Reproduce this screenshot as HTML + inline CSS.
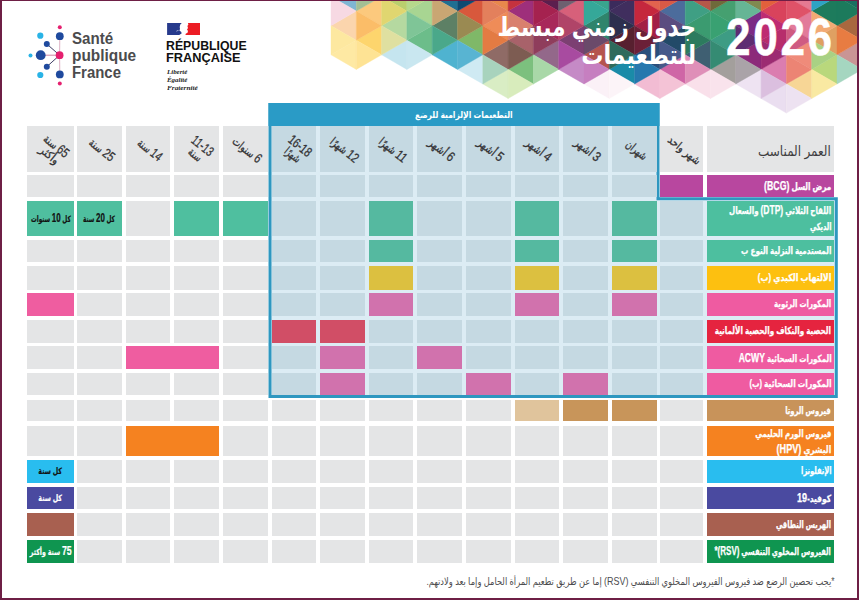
<!DOCTYPE html><html lang="ar"><head><meta charset="utf-8"><title>جدول زمني مبسط للتطعيمات 2026</title>
<style>
html,body{margin:0;padding:0;background:#fff;}
body{width:859px;height:600px;overflow:hidden;position:relative;font-family:"Liberation Sans","DejaVu Sans",sans-serif;}
#page{position:absolute;left:0;top:0;width:859px;height:600px;overflow:hidden;background:#fff;}
.c{position:absolute;box-sizing:border-box;}
.ar{font-family:"Liberation Sans","DejaVu Sans",sans-serif;direction:rtl;}
.f{display:inline-block;white-space:nowrap;}
.lbl{color:#fff;font-weight:bold;-webkit-text-stroke:0.25px #fff;font-size:10px;line-height:16.6px;direction:rtl;white-space:nowrap;}
.lbl .ln{position:absolute;right:2.8px;height:16.6px;}
.lbl .lt{font-size:12px;}
.ct{font-weight:bold;-webkit-text-stroke:0.2px currentColor;font-size:8.6px;line-height:14px;display:flex;align-items:center;justify-content:center;direction:rtl;white-space:nowrap;}
.ct .nm{font-size:12px;}
.hd{display:flex;align-items:center;justify-content:center;}
.hd .r{display:block;position:relative;left:2px;top:1px;transform:rotate(39deg);direction:rtl;text-align:center;font-size:11.5px;line-height:11px;color:#333335;white-space:nowrap;-webkit-text-stroke:0.3px #333335;}
.hd .dg{font-size:13.5px;}
</style></head><body><div id="page">
<svg class="c" style="left:0;top:0" width="859" height="125" viewBox="0 0 859 125">
<polygon points="356.30,-18.07 356.30,11.07 331.00,-3.50" fill="#7fb6d3" stroke="#7fb6d3" stroke-width="0.4"/>
<polygon points="356.30,11.07 356.30,40.22 331.00,25.65" fill="#fbd5ad" stroke="#fbd5ad" stroke-width="0.4"/>
<polygon points="356.30,40.22 356.30,69.38 331.00,54.80" fill="#fee9a3" stroke="#fee9a3" stroke-width="0.4"/>
<polygon points="331.00,-3.50 331.00,25.65 356.30,11.07" fill="#f7d9e3" stroke="#f7d9e3" stroke-width="0.4"/>
<polygon points="331.00,25.65 331.00,54.80 356.30,40.22" fill="#fde8a0" stroke="#fde8a0" stroke-width="0.4"/>
<polygon points="381.60,-3.50 381.60,25.65 356.30,11.07" fill="#fcc97d" stroke="#fcc97d" stroke-width="0.4"/>
<polygon points="381.60,25.65 381.60,54.80 356.30,40.22" fill="#fdd56d" stroke="#fdd56d" stroke-width="0.4"/>
<polygon points="356.30,-18.07 356.30,11.07 381.60,-3.50" fill="#a3bf94" stroke="#a3bf94" stroke-width="0.4"/>
<polygon points="356.30,11.07 356.30,40.22 381.60,25.65" fill="#fbbd68" stroke="#fbbd68" stroke-width="0.4"/>
<polygon points="356.30,40.22 356.30,69.38 381.60,54.80" fill="#fee394" stroke="#fee394" stroke-width="0.4"/>
<polygon points="406.90,-18.07 406.90,11.07 381.60,-3.50" fill="#b9cf6e" stroke="#b9cf6e" stroke-width="0.4"/>
<polygon points="406.90,11.07 406.90,40.22 381.60,25.65" fill="#b5d9a0" stroke="#b5d9a0" stroke-width="0.4"/>
<polygon points="406.90,40.22 406.90,69.38 381.60,54.80" fill="#c5e5ef" stroke="#c5e5ef" stroke-width="0.4"/>
<polygon points="381.60,-3.50 381.60,25.65 406.90,11.07" fill="#e0d670" stroke="#e0d670" stroke-width="0.4"/>
<polygon points="381.60,25.65 381.60,54.80 406.90,40.22" fill="#dfe0a0" stroke="#dfe0a0" stroke-width="0.4"/>
<polygon points="432.20,-3.50 432.20,25.65 406.90,11.07" fill="#a8d592" stroke="#a8d592" stroke-width="0.4"/>
<polygon points="432.20,25.65 432.20,54.80 406.90,40.22" fill="#6cbd8a" stroke="#6cbd8a" stroke-width="0.4"/>
<polygon points="406.90,-18.07 406.90,11.07 432.20,-3.50" fill="#b6d98c" stroke="#b6d98c" stroke-width="0.4"/>
<polygon points="406.90,11.07 406.90,40.22 432.20,25.65" fill="#7fc597" stroke="#7fc597" stroke-width="0.4"/>
<polygon points="406.90,40.22 406.90,69.38 432.20,54.80" fill="#c9e7f0" stroke="#c9e7f0" stroke-width="0.4"/>
<polygon points="457.50,-18.07 457.50,11.07 432.20,-3.50" fill="#1f6f92" stroke="#1f6f92" stroke-width="0.4"/>
<polygon points="457.50,11.07 457.50,40.22 432.20,25.65" fill="#5d8065" stroke="#5d8065" stroke-width="0.4"/>
<polygon points="457.50,40.22 457.50,69.38 432.20,54.80" fill="#4fb3d0" stroke="#4fb3d0" stroke-width="0.4"/>
<polygon points="432.20,-3.50 432.20,25.65 457.50,11.07" fill="#c9a673" stroke="#c9a673" stroke-width="0.4"/>
<polygon points="432.20,25.65 432.20,54.80 457.50,40.22" fill="#4aa88a" stroke="#4aa88a" stroke-width="0.4"/>
<polygon points="482.80,-3.50 482.80,25.65 457.50,11.07" fill="#d8583c" stroke="#d8583c" stroke-width="0.4"/>
<polygon points="482.80,25.65 482.80,54.80 457.50,40.22" fill="#7fb868" stroke="#7fb868" stroke-width="0.4"/>
<polygon points="482.80,54.80 482.80,83.95 457.50,69.38" fill="#cfeaf3" stroke="#cfeaf3" stroke-width="0.4"/>
<polygon points="457.50,-18.07 457.50,11.07 482.80,-3.50" fill="#0d4a72" stroke="#0d4a72" stroke-width="0.4"/>
<polygon points="457.50,11.07 457.50,40.22 482.80,25.65" fill="#9a8a52" stroke="#9a8a52" stroke-width="0.4"/>
<polygon points="457.50,40.22 457.50,69.38 482.80,54.80" fill="#58b4d2" stroke="#58b4d2" stroke-width="0.4"/>
<polygon points="508.10,-18.07 508.10,11.07 482.80,-3.50" fill="#e8884c" stroke="#e8884c" stroke-width="0.4"/>
<polygon points="508.10,11.07 508.10,40.22 482.80,25.65" fill="#ef8c58" stroke="#ef8c58" stroke-width="0.4"/>
<polygon points="508.10,40.22 508.10,69.38 482.80,54.80" fill="#8f6b66" stroke="#8f6b66" stroke-width="0.4"/>
<polygon points="508.10,69.37 508.10,98.52 482.80,83.95" fill="#d9edc4" stroke="#d9edc4" stroke-width="0.4"/>
<polygon points="482.80,-3.50 482.80,25.65 508.10,11.07" fill="#e3805c" stroke="#e3805c" stroke-width="0.4"/>
<polygon points="482.80,25.65 482.80,54.80 508.10,40.22" fill="#e37b43" stroke="#e37b43" stroke-width="0.4"/>
<polygon points="482.80,54.80 482.80,83.95 508.10,69.38" fill="#a8d3bd" stroke="#a8d3bd" stroke-width="0.4"/>
<polygon points="533.40,-3.50 533.40,25.65 508.10,11.07" fill="#9e2f7b" stroke="#9e2f7b" stroke-width="0.4"/>
<polygon points="533.40,25.65 533.40,54.80 508.10,40.22" fill="#a8626a" stroke="#a8626a" stroke-width="0.4"/>
<polygon points="533.40,54.80 533.40,83.95 508.10,69.38" fill="#7cc07e" stroke="#7cc07e" stroke-width="0.4"/>
<polygon points="508.10,-18.07 508.10,11.07 533.40,-3.50" fill="#c5323e" stroke="#c5323e" stroke-width="0.4"/>
<polygon points="508.10,11.07 508.10,40.22 533.40,25.65" fill="#d9806e" stroke="#d9806e" stroke-width="0.4"/>
<polygon points="508.10,40.22 508.10,69.38 533.40,54.80" fill="#7d5c52" stroke="#7d5c52" stroke-width="0.4"/>
<polygon points="508.10,69.37 508.10,98.52 533.40,83.95" fill="#d8ecbc" stroke="#d8ecbc" stroke-width="0.4"/>
<polygon points="558.70,-18.07 558.70,11.07 533.40,-3.50" fill="#5b1f4e" stroke="#5b1f4e" stroke-width="0.4"/>
<polygon points="558.70,11.07 558.70,40.22 533.40,25.65" fill="#a8285a" stroke="#a8285a" stroke-width="0.4"/>
<polygon points="558.70,40.22 558.70,69.38 533.40,54.80" fill="#93688a" stroke="#93688a" stroke-width="0.4"/>
<polygon points="533.40,-3.50 533.40,25.65 558.70,11.07" fill="#a5224f" stroke="#a5224f" stroke-width="0.4"/>
<polygon points="533.40,25.65 533.40,54.80 558.70,40.22" fill="#8f3d5c" stroke="#8f3d5c" stroke-width="0.4"/>
<polygon points="533.40,54.80 533.40,83.95 558.70,69.38" fill="#a9d8a8" stroke="#a9d8a8" stroke-width="0.4"/>
<polygon points="584.00,-3.50 584.00,25.65 558.70,11.07" fill="#d7607a" stroke="#d7607a" stroke-width="0.4"/>
<polygon points="584.00,25.65 584.00,54.80 558.70,40.22" fill="#7c3f72" stroke="#7c3f72" stroke-width="0.4"/>
<polygon points="584.00,54.80 584.00,83.95 558.70,69.38" fill="#c58ac6" stroke="#c58ac6" stroke-width="0.4"/>
<polygon points="558.70,-18.07 558.70,11.07 584.00,-3.50" fill="#6e6070" stroke="#6e6070" stroke-width="0.4"/>
<polygon points="558.70,11.07 558.70,40.22 584.00,25.65" fill="#b04468" stroke="#b04468" stroke-width="0.4"/>
<polygon points="558.70,40.22 558.70,69.38 584.00,54.80" fill="#a84ba0" stroke="#a84ba0" stroke-width="0.4"/>
<polygon points="609.30,-18.07 609.30,11.07 584.00,-3.50" fill="#3aa58e" stroke="#3aa58e" stroke-width="0.4"/>
<polygon points="609.30,11.07 609.30,40.22 584.00,25.65" fill="#2f846c" stroke="#2f846c" stroke-width="0.4"/>
<polygon points="609.30,40.22 609.30,69.38 584.00,54.80" fill="#b5544e" stroke="#b5544e" stroke-width="0.4"/>
<polygon points="609.30,69.37 609.30,98.52 584.00,83.95" fill="#fbf1f7" stroke="#fbf1f7" stroke-width="0.4"/>
<polygon points="584.00,-3.50 584.00,25.65 609.30,11.07" fill="#35a899" stroke="#35a899" stroke-width="0.4"/>
<polygon points="584.00,25.65 584.00,54.80 609.30,40.22" fill="#6a4a6a" stroke="#6a4a6a" stroke-width="0.4"/>
<polygon points="584.00,54.80 584.00,83.95 609.30,69.38" fill="#c67fc0" stroke="#c67fc0" stroke-width="0.4"/>
<polygon points="634.60,-3.50 634.60,25.65 609.30,11.07" fill="#402e5e" stroke="#402e5e" stroke-width="0.4"/>
<polygon points="634.60,25.65 634.60,54.80 609.30,40.22" fill="#57202f" stroke="#57202f" stroke-width="0.4"/>
<polygon points="634.60,54.80 634.60,83.95 609.30,69.38" fill="#1a8ba8" stroke="#1a8ba8" stroke-width="0.4"/>
<polygon points="609.30,-18.07 609.30,11.07 634.60,-3.50" fill="#3b2b5c" stroke="#3b2b5c" stroke-width="0.4"/>
<polygon points="609.30,11.07 609.30,40.22 634.60,25.65" fill="#2d2f4e" stroke="#2d2f4e" stroke-width="0.4"/>
<polygon points="609.30,40.22 609.30,69.38 634.60,54.80" fill="#2e6b5c" stroke="#2e6b5c" stroke-width="0.4"/>
<polygon points="609.30,69.37 609.30,98.52 634.60,83.95" fill="#fcf4f8" stroke="#fcf4f8" stroke-width="0.4"/>
<polygon points="659.90,-18.07 659.90,11.07 634.60,-3.50" fill="#e2634e" stroke="#e2634e" stroke-width="0.4"/>
<polygon points="659.90,11.07 659.90,40.22 634.60,25.65" fill="#a31f45" stroke="#a31f45" stroke-width="0.4"/>
<polygon points="659.90,40.22 659.90,69.38 634.60,54.80" fill="#2a4f7c" stroke="#2a4f7c" stroke-width="0.4"/>
<polygon points="659.90,69.37 659.90,98.52 634.60,83.95" fill="#f2bcd3" stroke="#f2bcd3" stroke-width="0.4"/>
<polygon points="634.60,-3.50 634.60,25.65 659.90,11.07" fill="#c5273d" stroke="#c5273d" stroke-width="0.4"/>
<polygon points="634.60,25.65 634.60,54.80 659.90,40.22" fill="#6b2038" stroke="#6b2038" stroke-width="0.4"/>
<polygon points="634.60,54.80 634.60,83.95 659.90,69.38" fill="#2678ae" stroke="#2678ae" stroke-width="0.4"/>
<polygon points="685.20,-3.50 685.20,25.65 659.90,11.07" fill="#4c6c9c" stroke="#4c6c9c" stroke-width="0.4"/>
<polygon points="685.20,25.65 685.20,54.80 659.90,40.22" fill="#224a68" stroke="#224a68" stroke-width="0.4"/>
<polygon points="685.20,54.80 685.20,83.95 659.90,69.38" fill="#cf66a6" stroke="#cf66a6" stroke-width="0.4"/>
<polygon points="659.90,-18.07 659.90,11.07 685.20,-3.50" fill="#d95a45" stroke="#d95a45" stroke-width="0.4"/>
<polygon points="659.90,11.07 659.90,40.22 685.20,25.65" fill="#5b4d80" stroke="#5b4d80" stroke-width="0.4"/>
<polygon points="659.90,40.22 659.90,69.38 685.20,54.80" fill="#47598a" stroke="#47598a" stroke-width="0.4"/>
<polygon points="659.90,69.37 659.90,98.52 685.20,83.95" fill="#f4c3d6" stroke="#f4c3d6" stroke-width="0.4"/>
<polygon points="710.50,-18.07 710.50,11.07 685.20,-3.50" fill="#b5584a" stroke="#b5584a" stroke-width="0.4"/>
<polygon points="710.50,11.07 710.50,40.22 685.20,25.65" fill="#3b9b70" stroke="#3b9b70" stroke-width="0.4"/>
<polygon points="710.50,40.22 710.50,69.38 685.20,54.80" fill="#3f5f72" stroke="#3f5f72" stroke-width="0.4"/>
<polygon points="710.50,69.37 710.50,98.52 685.20,83.95" fill="#f9e0ea" stroke="#f9e0ea" stroke-width="0.4"/>
<polygon points="685.20,-3.50 685.20,25.65 710.50,11.07" fill="#3f9f84" stroke="#3f9f84" stroke-width="0.4"/>
<polygon points="685.20,25.65 685.20,54.80 710.50,40.22" fill="#2c7b5e" stroke="#2c7b5e" stroke-width="0.4"/>
<polygon points="685.20,54.80 685.20,83.95 710.50,69.38" fill="#df8fb8" stroke="#df8fb8" stroke-width="0.4"/>
<polygon points="735.80,-3.50 735.80,25.65 710.50,11.07" fill="#45a070" stroke="#45a070" stroke-width="0.4"/>
<polygon points="735.80,25.65 735.80,54.80 710.50,40.22" fill="#3d9c84" stroke="#3d9c84" stroke-width="0.4"/>
<polygon points="735.80,54.80 735.80,83.95 710.50,69.38" fill="#a39f9c" stroke="#a39f9c" stroke-width="0.4"/>
<polygon points="710.50,-18.07 710.50,11.07 735.80,-3.50" fill="#6f6a3a" stroke="#6f6a3a" stroke-width="0.4"/>
<polygon points="710.50,11.07 710.50,40.22 735.80,25.65" fill="#39a172" stroke="#39a172" stroke-width="0.4"/>
<polygon points="710.50,40.22 710.50,69.38 735.80,54.80" fill="#358b73" stroke="#358b73" stroke-width="0.4"/>
<polygon points="710.50,69.37 710.50,98.52 735.80,83.95" fill="#f9e3ec" stroke="#f9e3ec" stroke-width="0.4"/>
<polygon points="761.10,-18.07 761.10,11.07 735.80,-3.50" fill="#808a50" stroke="#808a50" stroke-width="0.4"/>
<polygon points="761.10,11.07 761.10,40.22 735.80,25.65" fill="#7b2b85" stroke="#7b2b85" stroke-width="0.4"/>
<polygon points="761.10,40.22 761.10,69.38 735.80,54.80" fill="#8c2a7a" stroke="#8c2a7a" stroke-width="0.4"/>
<polygon points="761.10,69.37 761.10,98.52 735.80,83.95" fill="#eee3f2" stroke="#eee3f2" stroke-width="0.4"/>
<polygon points="735.80,-3.50 735.80,25.65 761.10,11.07" fill="#66b595" stroke="#66b595" stroke-width="0.4"/>
<polygon points="735.80,25.65 735.80,54.80 761.10,40.22" fill="#5e2c72" stroke="#5e2c72" stroke-width="0.4"/>
<polygon points="735.80,54.80 735.80,83.95 761.10,69.38" fill="#aaa3a8" stroke="#aaa3a8" stroke-width="0.4"/>
<polygon points="786.40,-3.50 786.40,25.65 761.10,11.07" fill="#d9435c" stroke="#d9435c" stroke-width="0.4"/>
<polygon points="786.40,25.65 786.40,54.80 761.10,40.22" fill="#b72d6c" stroke="#b72d6c" stroke-width="0.4"/>
<polygon points="786.40,54.80 786.40,83.95 761.10,69.38" fill="#db7db0" stroke="#db7db0" stroke-width="0.4"/>
<polygon points="786.40,83.95 786.40,113.10 761.10,98.52" fill="#eadef0" stroke="#eadef0" stroke-width="0.4"/>
<polygon points="761.10,-18.07 761.10,11.07 786.40,-3.50" fill="#e2603c" stroke="#e2603c" stroke-width="0.4"/>
<polygon points="761.10,11.07 761.10,40.22 786.40,25.65" fill="#be2c72" stroke="#be2c72" stroke-width="0.4"/>
<polygon points="761.10,40.22 761.10,69.38 786.40,54.80" fill="#9c2b72" stroke="#9c2b72" stroke-width="0.4"/>
<polygon points="761.10,69.37 761.10,98.52 786.40,83.95" fill="#dbbfdf" stroke="#dbbfdf" stroke-width="0.4"/>
<polygon points="811.70,-18.07 811.70,11.07 786.40,-3.50" fill="#e57a92" stroke="#e57a92" stroke-width="0.4"/>
<polygon points="811.70,11.07 811.70,40.22 786.40,25.65" fill="#e27b9a" stroke="#e27b9a" stroke-width="0.4"/>
<polygon points="811.70,40.22 811.70,69.38 786.40,54.80" fill="#ef8b7a" stroke="#ef8b7a" stroke-width="0.4"/>
<polygon points="811.70,69.37 811.70,98.52 786.40,83.95" fill="#f7d696" stroke="#f7d696" stroke-width="0.4"/>
<polygon points="786.40,-3.50 786.40,25.65 811.70,11.07" fill="#df5268" stroke="#df5268" stroke-width="0.4"/>
<polygon points="786.40,25.65 786.40,54.80 811.70,40.22" fill="#cf5b82" stroke="#cf5b82" stroke-width="0.4"/>
<polygon points="786.40,54.80 786.40,83.95 811.70,69.38" fill="#ec8474" stroke="#ec8474" stroke-width="0.4"/>
<polygon points="786.40,83.95 786.40,113.10 811.70,98.52" fill="#ede2f1" stroke="#ede2f1" stroke-width="0.4"/>
<polygon points="837.00,-3.50 837.00,25.65 811.70,11.07" fill="#1d7b5c" stroke="#1d7b5c" stroke-width="0.4"/>
<polygon points="837.00,25.65 837.00,54.80 811.70,40.22" fill="#dfa062" stroke="#dfa062" stroke-width="0.4"/>
<polygon points="837.00,54.80 837.00,83.95 811.70,69.38" fill="#b9d87c" stroke="#b9d87c" stroke-width="0.4"/>
<polygon points="811.70,-18.07 811.70,11.07 837.00,-3.50" fill="#2ea3c4" stroke="#2ea3c4" stroke-width="0.4"/>
<polygon points="811.70,11.07 811.70,40.22 837.00,25.65" fill="#f2aa74" stroke="#f2aa74" stroke-width="0.4"/>
<polygon points="811.70,40.22 811.70,69.38 837.00,54.80" fill="#a9d184" stroke="#a9d184" stroke-width="0.4"/>
<polygon points="811.70,69.37 811.70,98.52 837.00,83.95" fill="#f9e9a2" stroke="#f9e9a2" stroke-width="0.4"/>
<polygon points="862.30,-18.07 862.30,11.07 837.00,-3.50" fill="#1a7060" stroke="#1a7060" stroke-width="0.4"/>
<polygon points="862.30,11.07 862.30,40.22 837.00,25.65" fill="#a8683f" stroke="#a8683f" stroke-width="0.4"/>
<polygon points="862.30,40.22 862.30,69.38 837.00,54.80" fill="#c99595" stroke="#c99595" stroke-width="0.4"/>
<polygon points="837.00,-3.50 837.00,25.65 862.30,11.07" fill="#1c7a5c" stroke="#1c7a5c" stroke-width="0.4"/>
<polygon points="837.00,25.65 837.00,54.80 862.30,40.22" fill="#e87c42" stroke="#e87c42" stroke-width="0.4"/>
<polygon points="837.00,54.80 837.00,83.95 862.30,69.38" fill="#a5d6c0" stroke="#a5d6c0" stroke-width="0.4"/>
</svg>
<svg class="c" style="left:20px;top:15px" width="60" height="80" viewBox="20 15 60 80">
<g stroke-width="0.9" fill="none">
<line x1="59.6" y1="55.2" x2="59.8" y2="36.2" stroke="#d9a8bd"/>
<line x1="59.6" y1="55.2" x2="59.8" y2="74.4" stroke="#d9a8bd"/>
<line x1="59.6" y1="55.2" x2="40.7" y2="55.2" stroke="#c77a9c"/>
<line x1="59.6" y1="55.2" x2="46.8" y2="44" stroke="#2a2a55"/>
<line x1="59.6" y1="55.2" x2="46.8" y2="66.7" stroke="#2a2a55"/>
</g>
<circle cx="59.8" cy="27.3" r="2" fill="#e5206f"/>
<circle cx="59.8" cy="36.2" r="3.9" fill="#1f4a9e"/>
<circle cx="40.3" cy="35.7" r="3.1" fill="#29b3e6"/>
<circle cx="46.8" cy="44" r="3" fill="#1f4a9e"/>
<circle cx="40.7" cy="55.2" r="4.9" fill="#1f4a9e"/>
<circle cx="30.5" cy="55.5" r="2" fill="#29b3e6"/>
<circle cx="59.6" cy="55.2" r="3.9" fill="#e5206f"/>
<circle cx="46.8" cy="66.7" r="3" fill="#1f4a9e"/>
<circle cx="40.3" cy="75" r="3.1" fill="#29b3e6"/>
<circle cx="59.8" cy="74.4" r="3.9" fill="#1f4a9e"/>
<circle cx="59.8" cy="83.4" r="2" fill="#e5206f"/>
</svg>
<div class="c" style="left:71.6px;top:30.3px;font-weight:bold;font-size:16px;line-height:17.1px;color:#4b4b4d;white-space:nowrap;"><span id="spf1" class="f" style="transform-origin:left center;transform:scaleX(0.9432);">Santé</span><br><span id="spf2" class="f" style="transform-origin:left center;transform:scaleX(0.9627);">publique</span><br><span id="spf3" class="f" style="transform-origin:left center;transform:scaleX(0.9327);">France</span></div>
<svg class="c" style="left:167px;top:22.9px" width="34" height="13" viewBox="0 0 34 13">
<path d="M0.1 0 L14.8 0 L13.3 1.6 L12.7 4 L13 6 L12.4 7.6 L14.3 9 L14.6 10.6 L12.2 12 L0.1 12 Z" fill="#273a8c"/>
<path d="M9.2 7.9 L11.4 6.9 L11.6 7.5 L9.6 8.5 Z" fill="#dfe3f3"/>
<path d="M20.9 0 L33 0 L33 12 L18.4 12 L18.9 10.6 L20.4 10 L21 8 L20 6.6 L21 5 L20.4 3 L21.4 1.6 Z" fill="#ec1c24"/>
</svg>
<div class="c" style="left:166.2px;top:39.7px;font-weight:bold;font-size:12.6px;line-height:12.3px;color:#111;white-space:nowrap;"><span id="rf1" class="f" style="transform-origin:left center;transform:scaleX(0.9759);">RÉPUBLIQUE</span><br><span id="rf2" class="f" style="transform-origin:left center;transform:scaleX(1.0137);">FRANÇAISE</span></div>
<div class="c" style="left:167px;top:67.7px;font-family:'Liberation Serif',serif;font-style:italic;font-size:6.8px;line-height:8.1px;color:#222;white-space:nowrap;font-weight:bold"><span id="m1" class="f" style="transform-origin:left center;transform:scaleX(1.0150);">Liberté</span><br><span id="m2" class="f" style="transform-origin:left center;transform:scaleX(1.0150);">Égalité</span><br><span id="m3" class="f" style="transform-origin:left center;transform:scaleX(1.0690);">Fraternité</span></div>
<div class="c ar" style="right:163.0px;top:13.9px;color:#fff;font-size:26px;line-height:27.5px;white-space:nowrap;font-weight:bold;"><span id="t1" class="f" style="transform-origin:right center;transform:scaleX(0.8411);">جدول زمني مبسط</span></div>
<div class="c ar" style="right:163.0px;top:41.5px;color:#fff;font-size:26px;line-height:27.5px;white-space:nowrap;font-weight:bold;"><span id="t2" class="f" style="transform-origin:right center;transform:scaleX(0.8496);">للتطعيمات</span></div>
<div class="c" style="left:725.5px;top:8px;color:#fff;font-weight:bold;font-size:51.7px;line-height:58px;white-space:nowrap;letter-spacing:3.1px;-webkit-text-stroke:0.5px #fff"><span id="yr" class="f" style="transform-origin:left center;transform:scaleX(0.8543);">2026</span></div>
<svg class="c" style="left:0;top:0" width="859" height="600" viewBox="0 0 859 600"><path d="M270 104.5 H658 V198.7 H836.3 V396.4 H270 Z" fill="#dcecf4" stroke="#2e97c0" stroke-width="3" stroke-linejoin="miter"/><rect x="268.5" y="103" width="391" height="23" fill="#2a9bc6"/></svg>
<div class="c ar" style="left:268.5px;top:103px;width:391px;height:23px;color:#fff;font-weight:bold;font-size:9.5px;display:flex;align-items:center;justify-content:center;white-space:nowrap;"><span id="bh" class="f" style="transform-origin:center center;transform:scaleX(0.8033);">التطعيمات الإلزامية للرضع</span></div>
<div class="c hd" style="left:27.00px;top:126.00px;width:47.00px;height:46.00px;background:#e4e5e6;"><div class="r"><span id="h0_0" class="f" style="transform-origin:center center;transform:scaleX(0.7632);"><span class="dg">65</span> سنة</span><br><span id="h0_1" class="f" style="transform-origin:center center;transform:scaleX(0.9167);">وأكثر</span></div></div>
<div class="c hd" style="left:77.00px;top:126.00px;width:44.70px;height:46.00px;background:#e4e5e6;"><div class="r"><span id="h1_0" class="f" style="transform-origin:center center;transform:scaleX(0.7632);"><span class="dg">25</span> سنة</span></div></div>
<div class="c hd" style="left:125.63px;top:126.00px;width:44.70px;height:46.00px;background:#e4e5e6;"><div class="r"><span id="h2_0" class="f" style="transform-origin:center center;transform:scaleX(0.7368);"><span class="dg">14</span> سنة</span></div></div>
<div class="c hd" style="left:174.26px;top:126.00px;width:44.70px;height:46.00px;background:#e4e5e6;"><div class="r"><span id="h3_0" class="f" style="transform-origin:center center;transform:scaleX(0.7206);"><span class="dg">11-13</span></span><br><span id="h3_1" class="f" style="transform-origin:center center;transform:scaleX(0.7368);">سنة</span></div></div>
<div class="c hd" style="left:222.89px;top:126.00px;width:44.70px;height:46.00px;background:#e4e5e6;"><div class="r"><span id="h4_0" class="f" style="transform-origin:center center;transform:scaleX(0.7636);"><span class="dg">6</span> سنوات</span></div></div>
<div class="c hd" style="left:271.52px;top:126.00px;width:44.70px;height:46.00px;background:#c5d9e2;"><div class="r"><span id="h5_0" class="f" style="transform-origin:center center;transform:scaleX(0.7486);"><span class="dg">16-18</span></span><br><span id="h5_1" class="f" style="transform-origin:center center;transform:scaleX(0.7083);">شهرًا</span></div></div>
<div class="c hd" style="left:320.15px;top:126.00px;width:44.70px;height:46.00px;background:#c5d9e2;"><div class="r"><span id="h6_0" class="f" style="transform-origin:center center;transform:scaleX(0.7558);"><span class="dg">12</span> شهرًا</span></div></div>
<div class="c hd" style="left:368.78px;top:126.00px;width:44.70px;height:46.00px;background:#c5d9e2;"><div class="r"><span id="h7_0" class="f" style="transform-origin:center center;transform:scaleX(0.7619);"><span class="dg">11</span> شهرًا</span></div></div>
<div class="c hd" style="left:417.41px;top:126.00px;width:44.70px;height:46.00px;background:#c5d9e2;"><div class="r"><span id="h8_0" class="f" style="transform-origin:center center;transform:scaleX(0.8286);"><span class="dg">6</span> أشهر</span></div></div>
<div class="c hd" style="left:466.04px;top:126.00px;width:44.70px;height:46.00px;background:#c5d9e2;"><div class="r"><span id="h9_0" class="f" style="transform-origin:center center;transform:scaleX(0.8286);"><span class="dg">5</span> أشهر</span></div></div>
<div class="c hd" style="left:514.67px;top:126.00px;width:44.70px;height:46.00px;background:#c5d9e2;"><div class="r"><span id="h10_0" class="f" style="transform-origin:center center;transform:scaleX(0.8286);"><span class="dg">4</span> أشهر</span></div></div>
<div class="c hd" style="left:563.30px;top:126.00px;width:44.70px;height:46.00px;background:#c5d9e2;"><div class="r"><span id="h11_0" class="f" style="transform-origin:center center;transform:scaleX(0.8286);"><span class="dg">3</span> أشهر</span></div></div>
<div class="c hd" style="left:611.93px;top:126.00px;width:44.70px;height:46.00px;background:#c5d9e2;"><div class="r"><span id="h12_0" class="f" style="transform-origin:center center;transform:scaleX(0.7273);">شهران</span></div></div>
<div class="c hd" style="left:660.20px;top:126.00px;width:43.20px;height:46.00px;background:#e4e5e6;"><div class="r"><span id="h13_0" class="f" style="transform-origin:center center;transform:scaleX(0.8261);">شهر واحد</span></div></div>
<div class="c" style="left:706.50px;top:126.00px;width:127.50px;height:46.00px;background:#e4e5e6;color:#3d3d3f;font-size:14px;line-height:20px;direction:rtl;white-space:nowrap;"><span class="ar" style="position:absolute;right:3px;top:15px"><span id="agehdr" class="f" style="transform-origin:right center;transform:scaleX(0.8588);">العمر المناسب</span></span></div>
<div class="c" style="left:27.00px;top:174.50px;width:47.00px;height:22.50px;background:#e4e5e6;"></div>
<div class="c" style="left:77.00px;top:174.50px;width:44.70px;height:22.50px;background:#e4e5e6;"></div>
<div class="c" style="left:125.63px;top:174.50px;width:44.70px;height:22.50px;background:#e4e5e6;"></div>
<div class="c" style="left:174.26px;top:174.50px;width:44.70px;height:22.50px;background:#e4e5e6;"></div>
<div class="c" style="left:222.89px;top:174.50px;width:44.70px;height:22.50px;background:#e4e5e6;"></div>
<div class="c" style="left:271.52px;top:174.50px;width:44.70px;height:22.50px;background:#c5d9e2;"></div>
<div class="c" style="left:320.15px;top:174.50px;width:44.70px;height:22.50px;background:#c5d9e2;"></div>
<div class="c" style="left:368.78px;top:174.50px;width:44.70px;height:22.50px;background:#c5d9e2;"></div>
<div class="c" style="left:417.41px;top:174.50px;width:44.70px;height:22.50px;background:#c5d9e2;"></div>
<div class="c" style="left:466.04px;top:174.50px;width:44.70px;height:22.50px;background:#c5d9e2;"></div>
<div class="c" style="left:514.67px;top:174.50px;width:44.70px;height:22.50px;background:#c5d9e2;"></div>
<div class="c" style="left:563.30px;top:174.50px;width:44.70px;height:22.50px;background:#c5d9e2;"></div>
<div class="c" style="left:611.93px;top:174.50px;width:44.70px;height:22.50px;background:#c5d9e2;"></div>
<div class="c" style="left:660.20px;top:174.50px;width:43.20px;height:22.50px;background:#b8479f;"></div>
<div class="c lbl" style="left:706.50px;top:174.50px;width:127.50px;height:22.50px;background:#b8479f;"><span class="ln" style="top:3.45px"><span id="l_bcg_0" class="f" style="transform-origin:right center;transform:scaleX(0.7283);">مرض السل <span class="lt">(BCG)</span></span></span></div>
<div class="c ct" style="left:27.00px;top:201.00px;width:47.00px;height:35.00px;background:#4fbf9f;color:#111;"><span id="ct_dtp_0" class="f" style="transform-origin:center center;transform:scaleX(0.6667);">كل <span class="nm">10</span> سنوات</span></div>
<div class="c ct" style="left:77.00px;top:201.00px;width:44.70px;height:35.00px;background:#4fbf9f;color:#111;"><span id="ct_dtp_1" class="f" style="transform-origin:center center;transform:scaleX(0.6625);">كل <span class="nm">20</span> سنة</span></div>
<div class="c" style="left:125.63px;top:201.00px;width:44.70px;height:35.00px;background:#e4e5e6;"></div>
<div class="c" style="left:174.26px;top:201.00px;width:44.70px;height:35.00px;background:#4fbf9f;"></div>
<div class="c" style="left:222.89px;top:201.00px;width:44.70px;height:35.00px;background:#4fbf9f;"></div>
<div class="c" style="left:271.52px;top:201.00px;width:44.70px;height:35.00px;background:#c5d9e2;"></div>
<div class="c" style="left:320.15px;top:201.00px;width:44.70px;height:35.00px;background:#c5d9e2;"></div>
<div class="c" style="left:368.78px;top:201.00px;width:44.70px;height:35.00px;background:#55b9a0;"></div>
<div class="c" style="left:417.41px;top:201.00px;width:44.70px;height:35.00px;background:#c5d9e2;"></div>
<div class="c" style="left:466.04px;top:201.00px;width:44.70px;height:35.00px;background:#c5d9e2;"></div>
<div class="c" style="left:514.67px;top:201.00px;width:44.70px;height:35.00px;background:#55b9a0;"></div>
<div class="c" style="left:563.30px;top:201.00px;width:44.70px;height:35.00px;background:#c5d9e2;"></div>
<div class="c" style="left:611.93px;top:201.00px;width:44.70px;height:35.00px;background:#55b9a0;"></div>
<div class="c" style="left:660.20px;top:201.00px;width:43.20px;height:35.00px;background:#c5d9e2;"></div>
<div class="c lbl" style="left:706.50px;top:201.00px;width:127.50px;height:35.00px;background:#4dbf9f;"><span class="ln" style="top:1.40px"><span id="l_dtp_0" class="f" style="transform-origin:right center;transform:scaleX(0.7083);">اللقاح الثلاثي <span class="lt">(DTP)</span> والسعال</span></span><span class="ln" style="top:18.00px"><span id="l_dtp_1" class="f" style="transform-origin:right center;transform:scaleX(0.6667);">الديكي</span></span></div>
<div class="c" style="left:27.00px;top:239.50px;width:47.00px;height:22.50px;background:#e4e5e6;"></div>
<div class="c" style="left:77.00px;top:239.50px;width:44.70px;height:22.50px;background:#e4e5e6;"></div>
<div class="c" style="left:125.63px;top:239.50px;width:44.70px;height:22.50px;background:#e4e5e6;"></div>
<div class="c" style="left:174.26px;top:239.50px;width:44.70px;height:22.50px;background:#e4e5e6;"></div>
<div class="c" style="left:222.89px;top:239.50px;width:44.70px;height:22.50px;background:#e4e5e6;"></div>
<div class="c" style="left:271.52px;top:239.50px;width:44.70px;height:22.50px;background:#c5d9e2;"></div>
<div class="c" style="left:320.15px;top:239.50px;width:44.70px;height:22.50px;background:#c5d9e2;"></div>
<div class="c" style="left:368.78px;top:239.50px;width:44.70px;height:22.50px;background:#55b9a0;"></div>
<div class="c" style="left:417.41px;top:239.50px;width:44.70px;height:22.50px;background:#c5d9e2;"></div>
<div class="c" style="left:466.04px;top:239.50px;width:44.70px;height:22.50px;background:#c5d9e2;"></div>
<div class="c" style="left:514.67px;top:239.50px;width:44.70px;height:22.50px;background:#55b9a0;"></div>
<div class="c" style="left:563.30px;top:239.50px;width:44.70px;height:22.50px;background:#c5d9e2;"></div>
<div class="c" style="left:611.93px;top:239.50px;width:44.70px;height:22.50px;background:#55b9a0;"></div>
<div class="c" style="left:660.20px;top:239.50px;width:43.20px;height:22.50px;background:#c5d9e2;"></div>
<div class="c lbl" style="left:706.50px;top:239.50px;width:127.50px;height:22.50px;background:#4dbf9f;"><span class="ln" style="top:3.45px"><span id="l_hib_0" class="f" style="transform-origin:right center;transform:scaleX(0.7258);">المستدمية النزلية النوع ب</span></span></div>
<div class="c" style="left:27.00px;top:266.00px;width:47.00px;height:23.50px;background:#e4e5e6;"></div>
<div class="c" style="left:77.00px;top:266.00px;width:44.70px;height:23.50px;background:#e4e5e6;"></div>
<div class="c" style="left:125.63px;top:266.00px;width:44.70px;height:23.50px;background:#e4e5e6;"></div>
<div class="c" style="left:174.26px;top:266.00px;width:44.70px;height:23.50px;background:#e4e5e6;"></div>
<div class="c" style="left:222.89px;top:266.00px;width:44.70px;height:23.50px;background:#e4e5e6;"></div>
<div class="c" style="left:271.52px;top:266.00px;width:44.70px;height:23.50px;background:#c5d9e2;"></div>
<div class="c" style="left:320.15px;top:266.00px;width:44.70px;height:23.50px;background:#c5d9e2;"></div>
<div class="c" style="left:368.78px;top:266.00px;width:44.70px;height:23.50px;background:#dcc040;"></div>
<div class="c" style="left:417.41px;top:266.00px;width:44.70px;height:23.50px;background:#c5d9e2;"></div>
<div class="c" style="left:466.04px;top:266.00px;width:44.70px;height:23.50px;background:#c5d9e2;"></div>
<div class="c" style="left:514.67px;top:266.00px;width:44.70px;height:23.50px;background:#dcc040;"></div>
<div class="c" style="left:563.30px;top:266.00px;width:44.70px;height:23.50px;background:#c5d9e2;"></div>
<div class="c" style="left:611.93px;top:266.00px;width:44.70px;height:23.50px;background:#dcc040;"></div>
<div class="c" style="left:660.20px;top:266.00px;width:43.20px;height:23.50px;background:#c5d9e2;"></div>
<div class="c lbl" style="left:706.50px;top:266.00px;width:127.50px;height:23.50px;background:#fdc010;"><span class="ln" style="top:3.95px"><span id="l_hepb_0" class="f" style="transform-origin:right center;transform:scaleX(0.7876);">الالتهاب الكبدي (ب)</span></span></div>
<div class="c" style="left:27.00px;top:293.00px;width:47.00px;height:22.50px;background:#ef5da0;"></div>
<div class="c" style="left:77.00px;top:293.00px;width:44.70px;height:22.50px;background:#e4e5e6;"></div>
<div class="c" style="left:125.63px;top:293.00px;width:44.70px;height:22.50px;background:#e4e5e6;"></div>
<div class="c" style="left:174.26px;top:293.00px;width:44.70px;height:22.50px;background:#e4e5e6;"></div>
<div class="c" style="left:222.89px;top:293.00px;width:44.70px;height:22.50px;background:#e4e5e6;"></div>
<div class="c" style="left:271.52px;top:293.00px;width:44.70px;height:22.50px;background:#c5d9e2;"></div>
<div class="c" style="left:320.15px;top:293.00px;width:44.70px;height:22.50px;background:#c5d9e2;"></div>
<div class="c" style="left:368.78px;top:293.00px;width:44.70px;height:22.50px;background:#d172ad;"></div>
<div class="c" style="left:417.41px;top:293.00px;width:44.70px;height:22.50px;background:#c5d9e2;"></div>
<div class="c" style="left:466.04px;top:293.00px;width:44.70px;height:22.50px;background:#c5d9e2;"></div>
<div class="c" style="left:514.67px;top:293.00px;width:44.70px;height:22.50px;background:#d172ad;"></div>
<div class="c" style="left:563.30px;top:293.00px;width:44.70px;height:22.50px;background:#c5d9e2;"></div>
<div class="c" style="left:611.93px;top:293.00px;width:44.70px;height:22.50px;background:#d172ad;"></div>
<div class="c" style="left:660.20px;top:293.00px;width:43.20px;height:22.50px;background:#c5d9e2;"></div>
<div class="c lbl" style="left:706.50px;top:293.00px;width:127.50px;height:22.50px;background:#ef5ba1;"><span class="ln" style="top:3.45px"><span id="l_pneu_0" class="f" style="transform-origin:right center;transform:scaleX(0.7037);">المكورات الرئوية</span></span></div>
<div class="c" style="left:27.00px;top:319.50px;width:47.00px;height:23.00px;background:#e4e5e6;"></div>
<div class="c" style="left:77.00px;top:319.50px;width:44.70px;height:23.00px;background:#e4e5e6;"></div>
<div class="c" style="left:125.63px;top:319.50px;width:44.70px;height:23.00px;background:#e4e5e6;"></div>
<div class="c" style="left:174.26px;top:319.50px;width:44.70px;height:23.00px;background:#e4e5e6;"></div>
<div class="c" style="left:222.89px;top:319.50px;width:44.70px;height:23.00px;background:#e4e5e6;"></div>
<div class="c" style="left:271.52px;top:319.50px;width:44.70px;height:23.00px;background:#d14e66;"></div>
<div class="c" style="left:320.15px;top:319.50px;width:44.70px;height:23.00px;background:#d14e66;"></div>
<div class="c" style="left:368.78px;top:319.50px;width:44.70px;height:23.00px;background:#c5d9e2;"></div>
<div class="c" style="left:417.41px;top:319.50px;width:44.70px;height:23.00px;background:#c5d9e2;"></div>
<div class="c" style="left:466.04px;top:319.50px;width:44.70px;height:23.00px;background:#c5d9e2;"></div>
<div class="c" style="left:514.67px;top:319.50px;width:44.70px;height:23.00px;background:#c5d9e2;"></div>
<div class="c" style="left:563.30px;top:319.50px;width:44.70px;height:23.00px;background:#c5d9e2;"></div>
<div class="c" style="left:611.93px;top:319.50px;width:44.70px;height:23.00px;background:#c5d9e2;"></div>
<div class="c" style="left:660.20px;top:319.50px;width:43.20px;height:23.00px;background:#c5d9e2;"></div>
<div class="c lbl" style="left:706.50px;top:319.50px;width:127.50px;height:23.00px;background:#e5243f;"><span class="ln" style="top:3.70px"><span id="l_mmr_0" class="f" style="transform-origin:right center;transform:scaleX(0.7220);">الحصبة والنكاف والحصبة الألمانية</span></span></div>
<div class="c" style="left:27.00px;top:346.00px;width:47.00px;height:23.00px;background:#e4e5e6;"></div>
<div class="c" style="left:77.00px;top:346.00px;width:44.70px;height:23.00px;background:#e4e5e6;"></div>
<div class="c" style="left:125.63px;top:346.00px;width:93.33px;height:23.00px;background:#ef5da0;"></div>
<div class="c" style="left:222.89px;top:346.00px;width:44.70px;height:23.00px;background:#e4e5e6;"></div>
<div class="c" style="left:271.52px;top:346.00px;width:44.70px;height:23.00px;background:#c5d9e2;"></div>
<div class="c" style="left:320.15px;top:346.00px;width:44.70px;height:23.00px;background:#d172ad;"></div>
<div class="c" style="left:368.78px;top:346.00px;width:44.70px;height:23.00px;background:#c5d9e2;"></div>
<div class="c" style="left:417.41px;top:346.00px;width:44.70px;height:23.00px;background:#d172ad;"></div>
<div class="c" style="left:466.04px;top:346.00px;width:44.70px;height:23.00px;background:#c5d9e2;"></div>
<div class="c" style="left:514.67px;top:346.00px;width:44.70px;height:23.00px;background:#c5d9e2;"></div>
<div class="c" style="left:563.30px;top:346.00px;width:44.70px;height:23.00px;background:#c5d9e2;"></div>
<div class="c" style="left:611.93px;top:346.00px;width:44.70px;height:23.00px;background:#c5d9e2;"></div>
<div class="c" style="left:660.20px;top:346.00px;width:43.20px;height:23.00px;background:#c5d9e2;"></div>
<div class="c lbl" style="left:706.50px;top:346.00px;width:127.50px;height:23.00px;background:#ef5ba1;"><span class="ln" style="top:3.70px"><span id="l_acwy_0" class="f" style="transform-origin:right center;transform:scaleX(0.7173);">المكورات السحائية <span class="lt">ACWY</span></span></span></div>
<div class="c" style="left:27.00px;top:372.50px;width:47.00px;height:22.50px;background:#e4e5e6;"></div>
<div class="c" style="left:77.00px;top:372.50px;width:44.70px;height:22.50px;background:#e4e5e6;"></div>
<div class="c" style="left:125.63px;top:372.50px;width:44.70px;height:22.50px;background:#e4e5e6;"></div>
<div class="c" style="left:174.26px;top:372.50px;width:44.70px;height:22.50px;background:#e4e5e6;"></div>
<div class="c" style="left:222.89px;top:372.50px;width:44.70px;height:22.50px;background:#e4e5e6;"></div>
<div class="c" style="left:271.52px;top:372.50px;width:44.70px;height:22.50px;background:#c5d9e2;"></div>
<div class="c" style="left:320.15px;top:372.50px;width:44.70px;height:22.50px;background:#d172ad;"></div>
<div class="c" style="left:368.78px;top:372.50px;width:44.70px;height:22.50px;background:#c5d9e2;"></div>
<div class="c" style="left:417.41px;top:372.50px;width:44.70px;height:22.50px;background:#c5d9e2;"></div>
<div class="c" style="left:466.04px;top:372.50px;width:44.70px;height:22.50px;background:#d172ad;"></div>
<div class="c" style="left:514.67px;top:372.50px;width:44.70px;height:22.50px;background:#c5d9e2;"></div>
<div class="c" style="left:563.30px;top:372.50px;width:44.70px;height:22.50px;background:#d172ad;"></div>
<div class="c" style="left:611.93px;top:372.50px;width:44.70px;height:22.50px;background:#c5d9e2;"></div>
<div class="c" style="left:660.20px;top:372.50px;width:43.20px;height:22.50px;background:#c5d9e2;"></div>
<div class="c lbl" style="left:706.50px;top:372.50px;width:127.50px;height:22.50px;background:#ef5ba1;"><span class="ln" style="top:3.45px"><span id="l_menb_0" class="f" style="transform-origin:right center;transform:scaleX(0.7500);">المكورات السحائية (ب)</span></span></div>
<div class="c" style="left:27.00px;top:400.00px;width:47.00px;height:21.00px;background:#e4e5e6;"></div>
<div class="c" style="left:77.00px;top:400.00px;width:44.70px;height:21.00px;background:#e4e5e6;"></div>
<div class="c" style="left:125.63px;top:400.00px;width:44.70px;height:21.00px;background:#e4e5e6;"></div>
<div class="c" style="left:174.26px;top:400.00px;width:44.70px;height:21.00px;background:#e4e5e6;"></div>
<div class="c" style="left:222.89px;top:400.00px;width:44.70px;height:21.00px;background:#e4e5e6;"></div>
<div class="c" style="left:271.52px;top:400.00px;width:44.70px;height:21.00px;background:#e4e5e6;"></div>
<div class="c" style="left:320.15px;top:400.00px;width:44.70px;height:21.00px;background:#e4e5e6;"></div>
<div class="c" style="left:368.78px;top:400.00px;width:44.70px;height:21.00px;background:#e4e5e6;"></div>
<div class="c" style="left:417.41px;top:400.00px;width:44.70px;height:21.00px;background:#e4e5e6;"></div>
<div class="c" style="left:466.04px;top:400.00px;width:44.70px;height:21.00px;background:#e4e5e6;"></div>
<div class="c" style="left:514.67px;top:400.00px;width:44.70px;height:21.00px;background:#e0c49c;"></div>
<div class="c" style="left:563.30px;top:400.00px;width:44.70px;height:21.00px;background:#c8955a;"></div>
<div class="c" style="left:611.93px;top:400.00px;width:44.70px;height:21.00px;background:#c8955a;"></div>
<div class="c" style="left:660.20px;top:400.00px;width:43.20px;height:21.00px;background:#e4e5e6;"></div>
<div class="c lbl" style="left:706.50px;top:400.00px;width:127.50px;height:21.00px;background:#c8935a;"><span class="ln" style="top:2.70px"><span id="l_rota_0" class="f" style="transform-origin:right center;transform:scaleX(0.6828);">فيروس الروتا</span></span></div>
<div class="c" style="left:27.00px;top:425.50px;width:47.00px;height:30.50px;background:#e4e5e6;"></div>
<div class="c" style="left:77.00px;top:425.50px;width:44.70px;height:30.50px;background:#e4e5e6;"></div>
<div class="c" style="left:125.63px;top:425.50px;width:93.33px;height:30.50px;background:#f58220;"></div>
<div class="c" style="left:222.89px;top:425.50px;width:44.70px;height:30.50px;background:#e4e5e6;"></div>
<div class="c" style="left:271.52px;top:425.50px;width:44.70px;height:30.50px;background:#e4e5e6;"></div>
<div class="c" style="left:320.15px;top:425.50px;width:44.70px;height:30.50px;background:#e4e5e6;"></div>
<div class="c" style="left:368.78px;top:425.50px;width:44.70px;height:30.50px;background:#e4e5e6;"></div>
<div class="c" style="left:417.41px;top:425.50px;width:44.70px;height:30.50px;background:#e4e5e6;"></div>
<div class="c" style="left:466.04px;top:425.50px;width:44.70px;height:30.50px;background:#e4e5e6;"></div>
<div class="c" style="left:514.67px;top:425.50px;width:44.70px;height:30.50px;background:#e4e5e6;"></div>
<div class="c" style="left:563.30px;top:425.50px;width:44.70px;height:30.50px;background:#e4e5e6;"></div>
<div class="c" style="left:611.93px;top:425.50px;width:44.70px;height:30.50px;background:#e4e5e6;"></div>
<div class="c" style="left:660.20px;top:425.50px;width:43.20px;height:30.50px;background:#e4e5e6;"></div>
<div class="c lbl" style="left:706.50px;top:425.50px;width:127.50px;height:30.50px;background:#f58220;"><span class="ln" style="top:0.75px"><span id="l_hpv_0" class="f" style="transform-origin:right center;transform:scaleX(0.7014);">فيروس الورم الحليمي</span></span><span class="ln" style="top:15.75px"><span id="l_hpv_1" class="f" style="transform-origin:right center;transform:scaleX(0.7569);">البشري <span class="lt">(HPV)</span></span></span></div>
<div class="c ct" style="left:27.00px;top:460.00px;width:47.00px;height:22.50px;background:#29bdef;color:#111;"><span id="ct_flu_0" class="f" style="transform-origin:center center;transform:scaleX(0.7312);">كل سنة</span></div>
<div class="c" style="left:77.00px;top:460.00px;width:44.70px;height:22.50px;background:#e4e5e6;"></div>
<div class="c" style="left:125.63px;top:460.00px;width:44.70px;height:22.50px;background:#e4e5e6;"></div>
<div class="c" style="left:174.26px;top:460.00px;width:44.70px;height:22.50px;background:#e4e5e6;"></div>
<div class="c" style="left:222.89px;top:460.00px;width:44.70px;height:22.50px;background:#e4e5e6;"></div>
<div class="c" style="left:271.52px;top:460.00px;width:44.70px;height:22.50px;background:#e4e5e6;"></div>
<div class="c" style="left:320.15px;top:460.00px;width:44.70px;height:22.50px;background:#e4e5e6;"></div>
<div class="c" style="left:368.78px;top:460.00px;width:44.70px;height:22.50px;background:#e4e5e6;"></div>
<div class="c" style="left:417.41px;top:460.00px;width:44.70px;height:22.50px;background:#e4e5e6;"></div>
<div class="c" style="left:466.04px;top:460.00px;width:44.70px;height:22.50px;background:#e4e5e6;"></div>
<div class="c" style="left:514.67px;top:460.00px;width:44.70px;height:22.50px;background:#e4e5e6;"></div>
<div class="c" style="left:563.30px;top:460.00px;width:44.70px;height:22.50px;background:#e4e5e6;"></div>
<div class="c" style="left:611.93px;top:460.00px;width:44.70px;height:22.50px;background:#e4e5e6;"></div>
<div class="c" style="left:660.20px;top:460.00px;width:43.20px;height:22.50px;background:#e4e5e6;"></div>
<div class="c lbl" style="left:706.50px;top:460.00px;width:127.50px;height:22.50px;background:#29bdef;"><span class="ln" style="top:3.45px"><span id="l_flu_0" class="f" style="transform-origin:right center;transform:scaleX(0.6685);">الإنفلونزا</span></span></div>
<div class="c ct" style="left:27.00px;top:486.75px;width:47.00px;height:22.25px;background:#4a4aa0;color:#fff;"><span id="ct_cov_0" class="f" style="transform-origin:center center;transform:scaleX(0.7312);">كل سنة</span></div>
<div class="c" style="left:77.00px;top:486.75px;width:44.70px;height:22.25px;background:#e4e5e6;"></div>
<div class="c" style="left:125.63px;top:486.75px;width:44.70px;height:22.25px;background:#e4e5e6;"></div>
<div class="c" style="left:174.26px;top:486.75px;width:44.70px;height:22.25px;background:#e4e5e6;"></div>
<div class="c" style="left:222.89px;top:486.75px;width:44.70px;height:22.25px;background:#e4e5e6;"></div>
<div class="c" style="left:271.52px;top:486.75px;width:44.70px;height:22.25px;background:#e4e5e6;"></div>
<div class="c" style="left:320.15px;top:486.75px;width:44.70px;height:22.25px;background:#e4e5e6;"></div>
<div class="c" style="left:368.78px;top:486.75px;width:44.70px;height:22.25px;background:#e4e5e6;"></div>
<div class="c" style="left:417.41px;top:486.75px;width:44.70px;height:22.25px;background:#e4e5e6;"></div>
<div class="c" style="left:466.04px;top:486.75px;width:44.70px;height:22.25px;background:#e4e5e6;"></div>
<div class="c" style="left:514.67px;top:486.75px;width:44.70px;height:22.25px;background:#e4e5e6;"></div>
<div class="c" style="left:563.30px;top:486.75px;width:44.70px;height:22.25px;background:#e4e5e6;"></div>
<div class="c" style="left:611.93px;top:486.75px;width:44.70px;height:22.25px;background:#e4e5e6;"></div>
<div class="c" style="left:660.20px;top:486.75px;width:43.20px;height:22.25px;background:#e4e5e6;"></div>
<div class="c lbl" style="left:706.50px;top:486.75px;width:127.50px;height:22.25px;background:#4a4aa0;"><span class="ln" style="top:3.32px"><span id="l_cov_0" class="f" style="transform-origin:right center;transform:scaleX(0.7556);">كوفيد-<span class="lt">19</span></span></span></div>
<div class="c" style="left:27.00px;top:513.00px;width:47.00px;height:22.75px;background:#a86050;"></div>
<div class="c" style="left:77.00px;top:513.00px;width:44.70px;height:22.75px;background:#e4e5e6;"></div>
<div class="c" style="left:125.63px;top:513.00px;width:44.70px;height:22.75px;background:#e4e5e6;"></div>
<div class="c" style="left:174.26px;top:513.00px;width:44.70px;height:22.75px;background:#e4e5e6;"></div>
<div class="c" style="left:222.89px;top:513.00px;width:44.70px;height:22.75px;background:#e4e5e6;"></div>
<div class="c" style="left:271.52px;top:513.00px;width:44.70px;height:22.75px;background:#e4e5e6;"></div>
<div class="c" style="left:320.15px;top:513.00px;width:44.70px;height:22.75px;background:#e4e5e6;"></div>
<div class="c" style="left:368.78px;top:513.00px;width:44.70px;height:22.75px;background:#e4e5e6;"></div>
<div class="c" style="left:417.41px;top:513.00px;width:44.70px;height:22.75px;background:#e4e5e6;"></div>
<div class="c" style="left:466.04px;top:513.00px;width:44.70px;height:22.75px;background:#e4e5e6;"></div>
<div class="c" style="left:514.67px;top:513.00px;width:44.70px;height:22.75px;background:#e4e5e6;"></div>
<div class="c" style="left:563.30px;top:513.00px;width:44.70px;height:22.75px;background:#e4e5e6;"></div>
<div class="c" style="left:611.93px;top:513.00px;width:44.70px;height:22.75px;background:#e4e5e6;"></div>
<div class="c" style="left:660.20px;top:513.00px;width:43.20px;height:22.75px;background:#e4e5e6;"></div>
<div class="c lbl" style="left:706.50px;top:513.00px;width:127.50px;height:22.75px;background:#a86050;"><span class="ln" style="top:3.57px"><span id="l_zona_0" class="f" style="transform-origin:right center;transform:scaleX(0.6707);">الهربس النطاقي</span></span></div>
<div class="c ct" style="left:27.00px;top:539.50px;width:47.00px;height:23.00px;background:#0f9550;color:#fff;"><span id="ct_rsv_0" class="f" style="transform-origin:center center;transform:scaleX(0.7298);"><span class="nm">75</span> سنة وأكثر</span></div>
<div class="c" style="left:77.00px;top:539.50px;width:44.70px;height:23.00px;background:#e4e5e6;"></div>
<div class="c" style="left:125.63px;top:539.50px;width:44.70px;height:23.00px;background:#e4e5e6;"></div>
<div class="c" style="left:174.26px;top:539.50px;width:44.70px;height:23.00px;background:#e4e5e6;"></div>
<div class="c" style="left:222.89px;top:539.50px;width:44.70px;height:23.00px;background:#e4e5e6;"></div>
<div class="c" style="left:271.52px;top:539.50px;width:44.70px;height:23.00px;background:#e4e5e6;"></div>
<div class="c" style="left:320.15px;top:539.50px;width:44.70px;height:23.00px;background:#e4e5e6;"></div>
<div class="c" style="left:368.78px;top:539.50px;width:44.70px;height:23.00px;background:#e4e5e6;"></div>
<div class="c" style="left:417.41px;top:539.50px;width:44.70px;height:23.00px;background:#e4e5e6;"></div>
<div class="c" style="left:466.04px;top:539.50px;width:44.70px;height:23.00px;background:#e4e5e6;"></div>
<div class="c" style="left:514.67px;top:539.50px;width:44.70px;height:23.00px;background:#e4e5e6;"></div>
<div class="c" style="left:563.30px;top:539.50px;width:44.70px;height:23.00px;background:#e4e5e6;"></div>
<div class="c" style="left:611.93px;top:539.50px;width:44.70px;height:23.00px;background:#e4e5e6;"></div>
<div class="c" style="left:660.20px;top:539.50px;width:43.20px;height:23.00px;background:#e4e5e6;"></div>
<div class="c lbl" style="left:706.50px;top:539.50px;width:127.50px;height:23.00px;background:#0f9550;"><span class="ln" style="top:3.70px"><span id="l_rsv_0" class="f" style="transform-origin:right center;transform:scaleX(0.6695);">الفيروس المخلوي التنفسي <span class="lt">(RSV)*</span></span></span></div>
<div class="c ar" style="right:24.0px;top:573.6px;font-size:10.2px;line-height:14px;color:#4c4c4e;white-space:nowrap;"><span id="fn" class="f" style="transform-origin:right center;transform:scaleX(0.8154);">*يجب تحصين الرضع ضد فيروس الفيروس المخلوي التنفسي <span style="font-size:11px">(RSV)</span> إما عن طريق تطعيم المرأة الحامل وإما بعد ولادتهم.</span></div>
<div class="c" style="left:0;top:0;width:859px;height:1.2px;background:#6e1f45"></div>
<div class="c" style="left:0;top:597.6px;width:859px;height:2.4px;background:#6e1f45"></div>
<div class="c" style="left:0;top:0;width:1.6px;height:600px;background:#6e1f45"></div>
<div class="c" style="left:857px;top:0;width:2px;height:600px;background:#6e1f45"></div>
</div></body></html>
